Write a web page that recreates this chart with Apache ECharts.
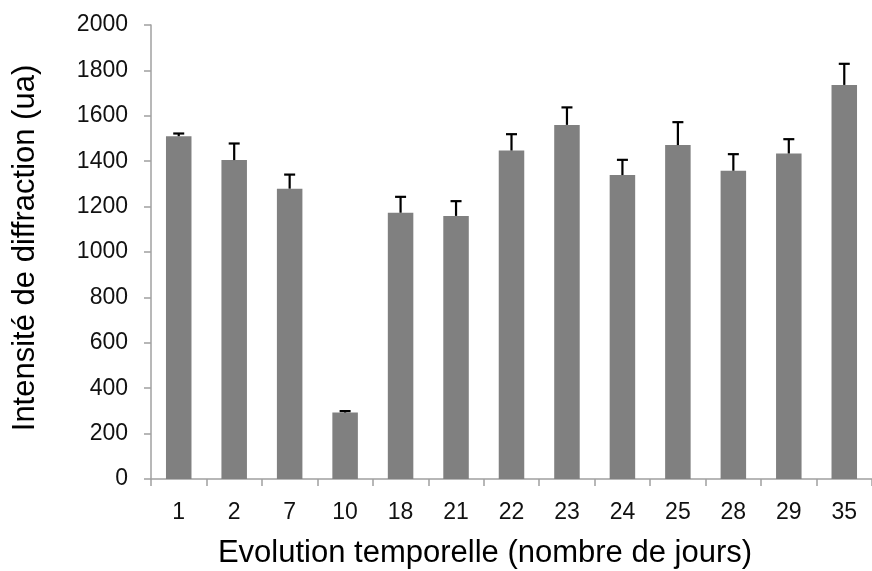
<!DOCTYPE html>
<html>
<head>
<meta charset="utf-8">
<script src="https://cdn.jsdelivr.net/npm/echarts@6/dist/echarts.min.js"></script>
<style>
html,body{margin:0;padding:0;background:#fff;}
#c{width:872px;height:571px;}
</style>
</head>
<body>
<div id="c"></div>
<script>
var categories = ['1','2','7','10','18','21','22','23','24','25','28','29','35'];
var means = [1510,1405,1279,293,1173,1159,1447,1560,1339,1471,1358,1434,1736];
var errors = [12,73,62,6,70,65,72,77,67,101,73,63,93];
var yTicks = {min:0, max:2000, interval:200};
var xTitle = 'Evolution temporelle (nombre de jours)';
var yTitle = 'Intensité de diffraction (ua)';

var FONT = '"Liberation Sans", Arial, sans-serif';
var chart = echarts.init(document.getElementById('c'));
var errData = categories.map(function(c,i){ return [i, means[i], means[i]+errors[i]]; });

chart.setOption({
  animation:false,
  backgroundColor:'#fff',
  grid:{left:151, top:25, width:733, height:454},
  xAxis:{
    type:'category', data:categories,
    axisLine:{lineStyle:{color:'#a0a0a0', width:1.5}},
    axisTick:{show:true, length:7, lineStyle:{color:'#a0a0a0', width:1.5}},
    axisLabel:{color:'#111', fontSize:23, fontFamily:FONT, margin:22, interval:0}
  },
  yAxis:{
    type:'value', min:yTicks.min, max:yTicks.max, interval:yTicks.interval,
    splitLine:{show:false},
    axisLine:{show:true, lineStyle:{color:'#a0a0a0', width:1.5}},
    axisTick:{show:true, length:7, lineStyle:{color:'#a0a0a0', width:1.5}},
    axisLabel:{color:'#111', fontSize:23, fontFamily:FONT, margin:23,
      formatter:function(v){ return String(v); }}
  },
  graphic:[
    {type:'text', x:485, y:553, style:{text:xTitle, fill:'#000', font:'31px '+FONT, align:'center', verticalAlign:'middle'}},
    {type:'text', x:25, y:248, rotation:Math.PI/2, style:{text:yTitle, fill:'#000', font:'31px '+FONT, align:'center', verticalAlign:'middle'}}
  ],
  series:[
    {type:'bar', data:means, barWidth:'46%', itemStyle:{color:'#808080'}, z:2},
    {type:'custom', data:errData, z:3,
     renderItem:function(params, api){
       var x = api.value(0);
       var top = api.coord([x, api.value(2)]);
       var base = api.coord([x, api.value(1)]);
       var hw = 5.5;
       var st = {stroke:'#000', lineWidth:2.2};
       return {type:'group', children:[
         {type:'line', shape:{x1:top[0], y1:top[1], x2:base[0], y2:base[1]}, style:st},
         {type:'line', shape:{x1:top[0]-hw, y1:top[1], x2:top[0]+hw, y2:top[1]}, style:st}
       ]};
     }
    }
  ]
});
</script>
</body>
</html>
